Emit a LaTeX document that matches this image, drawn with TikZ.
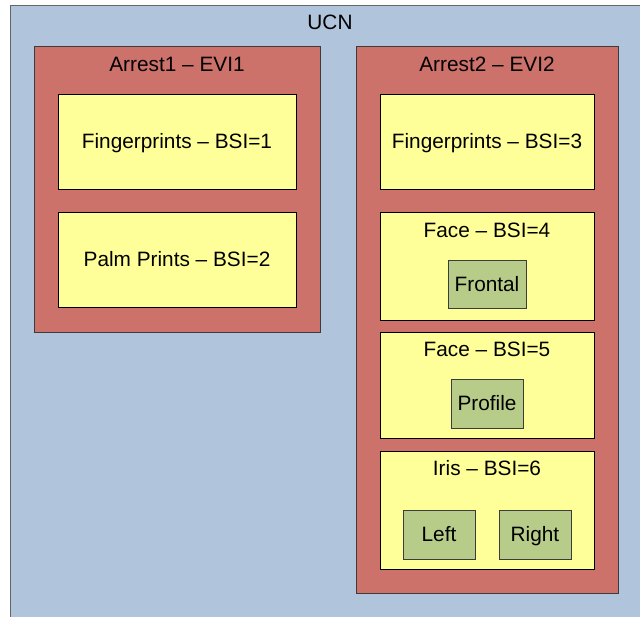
\documentclass[tikz,border=0pt]{standalone}
\usepackage{fontspec}
\setmainfont{Liberation Sans}
\definecolor{ucnblue}{RGB}{176,196,220}
\definecolor{arrestred}{RGB}{205,113,107}
\definecolor{bsiyellow}{RGB}{255,255,153}
\definecolor{subgreen}{RGB}{184,204,138}
\definecolor{edgegray}{RGB}{60,60,60}
\tikzset{
  every node/.style={inner sep=0pt, outer sep=0pt, text height=14.9pt, text depth=0pt, font=\fontsize{20.8}{25}\selectfont},
  area/.style={draw=edgegray, line width=1pt, rectangle, anchor=north west},
  ucnbox/.style={area, fill=ucnblue, draw=gray!80!black},
  arrestbox/.style={area, fill=arrestred},
  bsibox/.style={area, fill=bsiyellow, draw=black},
  subbox/.style={area, fill=subgreen},
  lbl/.style={anchor=center}
}
\begin{document}
\begin{tikzpicture}[x=1pt,y=-1pt]
\useasboundingbox (0,0) rectangle (640,616);
\fill[white] (0,0) rectangle (640,616);
% outer
\node[ucnbox, minimum width=660pt, minimum height=640pt] (ucn) at (10,5) {};
\node[lbl] (ucnl) at (330,22) {UCN};
% Arrest1
\node[arrestbox, minimum width=286pt, minimum height=286pt] (a1) at (34,46) {};
\node[lbl] (a1l) at (177,64) {Arrest1 – EVI1};
\node[bsibox, minimum width=238pt, minimum height=95pt] (f1) at (58,94) {Fingerprints – BSI=1};
\node[bsibox, minimum width=238pt, minimum height=95pt] (p2) at (58,212) {Palm Prints – BSI=2};
% Arrest2
\node[arrestbox, minimum width=262pt, minimum height=547pt] (a2) at (356,46) {};
\node[lbl] (a2l) at (487,64) {Arrest2 – EVI2};
\node[bsibox, minimum width=214pt, minimum height=95pt] (f3) at (380,94) {Fingerprints – BSI=3};
\node[bsibox, minimum width=214pt, minimum height=108pt] (f4) at (380,212) {};
\node[lbl] (f4l) at (487,230) {Face – BSI=4};
\node[subbox, minimum width=78pt, minimum height=48pt] (fr) at (448,260) {Frontal};
\node[bsibox, minimum width=214pt, minimum height=106pt] (f5) at (380,332) {};
\node[lbl] (f5l) at (487,349) {Face – BSI=5};
\node[subbox, minimum width=72pt, minimum height=49pt] (pr) at (451,379) {Profile};
\node[bsibox, minimum width=214pt, minimum height=118pt] (ir) at (380,451) {};
\node[lbl] (irl) at (487,468) {Iris – BSI=6};
\node[subbox, minimum width=72pt, minimum height=49pt] (le) at (403,510) {Left};
\node[subbox, minimum width=72pt, minimum height=49pt] (ri) at (499,510) {Right};
\end{tikzpicture}
\end{document}
